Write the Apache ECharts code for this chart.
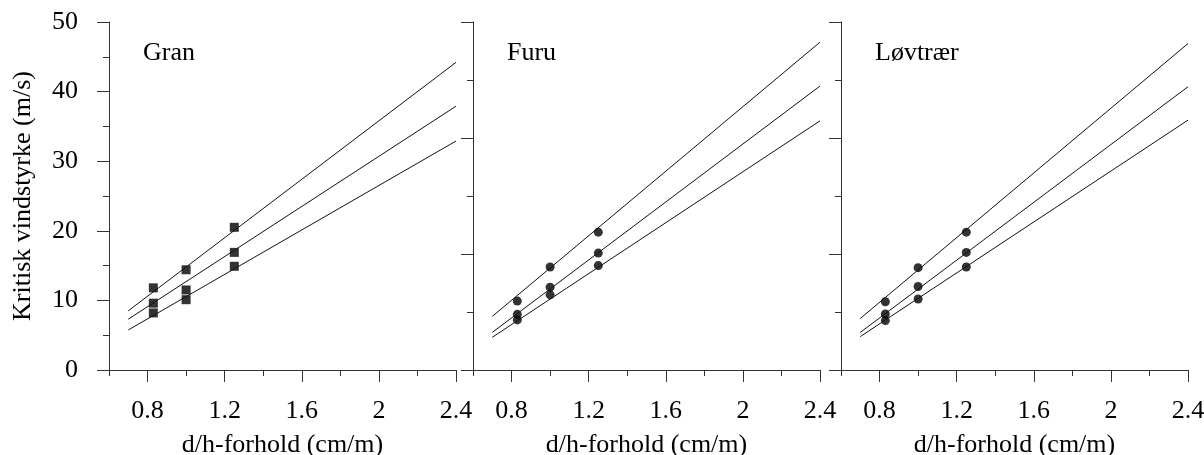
<!DOCTYPE html>
<html>
<head>
<meta charset="utf-8">
<script src="https://cdn.jsdelivr.net/npm/echarts@6/dist/echarts.min.js"></script>
<style>
  html, body { margin: 0; padding: 0; background: #fff; }
  #chart { width: 1204px; height: 455px; }
</style>
</head>
<body>
<div id="chart"></div>
<script>
// Panels (tree species)
const panelNames = ['Gran', 'Furu', 'Løvtrær'];

// Fitted lines: d/h ratio range and critical wind speed at each end
const lineX = [0.7, 2.4];
const granLines = [[8.5, 44.2], [7.3, 37.9], [5.75, 32.9]];
const furuLines = [[7.7, 47.1], [5.4, 40.8], [4.7, 35.8]];
const lovLines  = [[7.4, 46.9], [5.4, 40.7], [4.8, 35.9]];

// Observed points
const markX = [0.83, 1.0, 1.25];
const granMarks = [[11.8, 14.4, 20.5], [9.6, 11.5, 16.9], [8.2, 10.1, 14.9]];
const furuMarks = [[9.9, 14.8, 19.8], [8.0, 11.9, 16.8], [7.2, 10.8, 15.0]];
const lovMarks  = [[9.8, 14.7, 19.8], [8.05, 12.0, 16.9], [7.1, 10.2, 14.8]];

// Axis ticks and labels
const xMajor = [0.8, 1.2, 1.6, 2, 2.4];
const xMinor = [0.6, 1.0, 1.4, 1.8, 2.2];
const yMajorFirst = [0, 10, 20, 30, 40, 50];
const yMinorFirst = [5, 15, 25, 35, 45];
const yMajorOther = [0, 50 / 3, 100 / 3, 50];
const yMinorOther = [25 / 3, 25, 125 / 3];

const xAxisName = 'd/h-forhold (cm/m)';
const yAxisName = 'Kritisk vindstyrke (m/s)';

const FONT = 'Liberation Serif';
const FS = 26;
const AXIS_COLOR = '#333';
const LINE_COLOR = '#111';

const panelLines = [granLines, furuLines, lovLines];
const panelMarks = [granMarks, furuMarks, lovMarks];
const markSymbols = ['rect', 'circle', 'circle'];
const lefts = [109, 473, 841];

const grid = [], xAxis = [], yAxis = [], series = [], title = [];

lefts.forEach((left, p) => {
  grid.push({ left: left, top: 22, width: 347, height: 348,
              containLabel: false, outerBoundsMode: 'none' });

  // main x axis: line, long ticks, labels
  xAxis.push({
    type: 'value', gridIndex: p, min: 0.6, max: 2.4, position: 'bottom',
    axisLine: { show: true, lineStyle: { color: AXIS_COLOR, width: 1 } },
    axisTick: { show: true, length: 12, inside: false, customValues: xMajor,
                lineStyle: { color: AXIS_COLOR } },
    axisLabel: { show: true, customValues: xMajor, margin: 28,
                 fontFamily: FONT, fontSize: FS, color: '#000' },
    splitLine: { show: false },
    name: xAxisName, nameLocation: 'middle', nameGap: 62,
    nameTextStyle: { fontFamily: FONT, fontSize: FS, color: '#000' }
  });
  // short x ticks
  xAxis.push({
    type: 'value', gridIndex: p, min: 0.6, max: 2.4, position: 'bottom',
    axisLine: { show: false },
    axisTick: { show: true, length: 6, customValues: xMinor,
                lineStyle: { color: AXIS_COLOR } },
    axisLabel: { show: false },
    splitLine: { show: false }
  });

  const first = p === 0;
  yAxis.push({
    type: 'value', gridIndex: p, min: 0, max: 50, position: 'left',
    axisLine: { show: true, lineStyle: { color: AXIS_COLOR, width: 1 } },
    axisTick: { show: true, length: 12, customValues: first ? yMajorFirst : yMajorOther,
                lineStyle: { color: AXIS_COLOR } },
    axisLabel: { show: first, customValues: yMajorFirst, margin: 31,
                 fontFamily: FONT, fontSize: FS, color: '#000' },
    splitLine: { show: false },
    name: first ? yAxisName : '', nameLocation: 'middle', nameRotate: 90, nameGap: 73,
    nameTextStyle: { fontFamily: FONT, fontSize: FS, color: '#000' }
  });
  yAxis.push({
    type: 'value', gridIndex: p, min: 0, max: 50, position: 'left',
    axisLine: { show: false },
    axisTick: { show: true, length: 6, customValues: first ? yMinorFirst : yMinorOther,
                lineStyle: { color: AXIS_COLOR } },
    axisLabel: { show: false },
    splitLine: { show: false }
  });

  title.push({
    text: panelNames[p], left: left + 34, top: 40, padding: 0,
    textStyle: { fontFamily: FONT, fontSize: 26, fontWeight: 'normal', color: '#000' }
  });

  panelLines[p].forEach((ends) => {
    series.push({
      type: 'line', xAxisIndex: p * 2, yAxisIndex: p * 2,
      data: lineX.map((x, i) => [x, ends[i]]),
      showSymbol: false, symbol: 'none', silent: true,
      lineStyle: { color: LINE_COLOR, width: 1 }
    });
  });
  panelMarks[p].forEach((vals) => {
    series.push({
      type: 'scatter', xAxisIndex: p * 2, yAxisIndex: p * 2,
      data: markX.map((x, i) => [x, vals[i]]),
      symbol: markSymbols[p], symbolSize: 9,
      itemStyle: { color: '#000' }
    });
  });
});

const chart = echarts.init(document.getElementById('chart'), null, { renderer: 'canvas' });
chart.setOption({
  animation: false,
  backgroundColor: '#fff',
  title: title,
  grid: grid,
  xAxis: xAxis,
  yAxis: yAxis,
  series: series
});
</script>
</body>
</html>
